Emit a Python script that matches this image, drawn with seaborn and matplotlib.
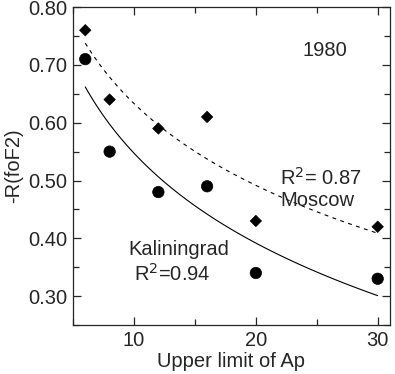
import numpy as np
import pandas as pd
import matplotlib
matplotlib.use("Agg")
import matplotlib.pyplot as plt
from matplotlib.ticker import MultipleLocator, FormatStrFormatter
import seaborn as sns

# upper limit of Ap and -R(foF2) for each station
ap_limit = [6, 8, 12, 16, 20, 30]
moscow = [0.76, 0.64, 0.59, 0.61, 0.43, 0.42]
kaliningrad = [0.71, 0.55, 0.48, 0.49, 0.34, 0.33]

sns.set_style("ticks")
plt.rcParams['font.family'] = ['Liberation Sans', 'DejaVu Sans']

data = pd.DataFrame({
    "ap": ap_limit * 2,
    "r": moscow + kaliningrad,
    "station": ["Moscow"] * 6 + ["Kaliningrad"] * 6,
})

fig = plt.figure(figsize=(3.95, 3.74), dpi=100)
ax = fig.add_axes([0.185, 0.131, 0.802, 0.85])

sns.scatterplot(data=data, x="ap", y="r", style="station",
                markers={"Moscow": "D", "Kaliningrad": "o"},
                size="station", sizes={"Moscow": 34, "Kaliningrad": 68},
                color="black", edgecolor="black", legend=False, ax=ax)

# logarithmic fits
xs = np.linspace(6, 30, 100)
for vals, ls in [(moscow, (0, (3.5, 4))), (kaliningrad, "-")]:
    b, a = np.polyfit(np.log(ap_limit), vals, 1)
    sns.lineplot(x=xs, y=a + b * np.log(xs), color="black", lw=0.8,
                 linestyle=ls, ax=ax)

ax.set_xlim(5, 31)
ax.set_ylim(0.25, 0.80)
ax.xaxis.set_major_locator(MultipleLocator(10))
ax.xaxis.set_minor_locator(MultipleLocator(5))
ax.yaxis.set_major_locator(MultipleLocator(0.1))
ax.yaxis.set_minor_locator(MultipleLocator(0.05))
ax.yaxis.set_major_formatter(FormatStrFormatter("%.2f"))
ax.tick_params(which="both", direction="in", top=True, right=True,
               labelsize=14.5, width=0.9)
ax.tick_params(which="major", length=6, pad=4)
ax.tick_params(which="minor", length=4)
for s in ax.spines.values():
    s.set_linewidth(0.9)

ax.set_xlabel("Upper limit of Ap", fontsize=14.5, labelpad=2)
ax.set_ylabel("-R(foF2)", fontsize=14.5, labelpad=4)

fs = 14.5
ax.text(25.7, 0.725, "1980", fontsize=fs, ha="center", va="center")
ax.text(22.0, 0.505, "R$^2$= 0.87", fontsize=fs, ha="left", va="center")
ax.text(22.0, 0.465, "Moscow", fontsize=fs, ha="left", va="center")
ax.text(9.5, 0.38, "Kaliningrad", fontsize=fs, ha="left", va="center")
ax.text(10.0, 0.338, "R$^2$=0.94", fontsize=fs, ha="left", va="center")

fig.savefig("out.png", dpi=100)
